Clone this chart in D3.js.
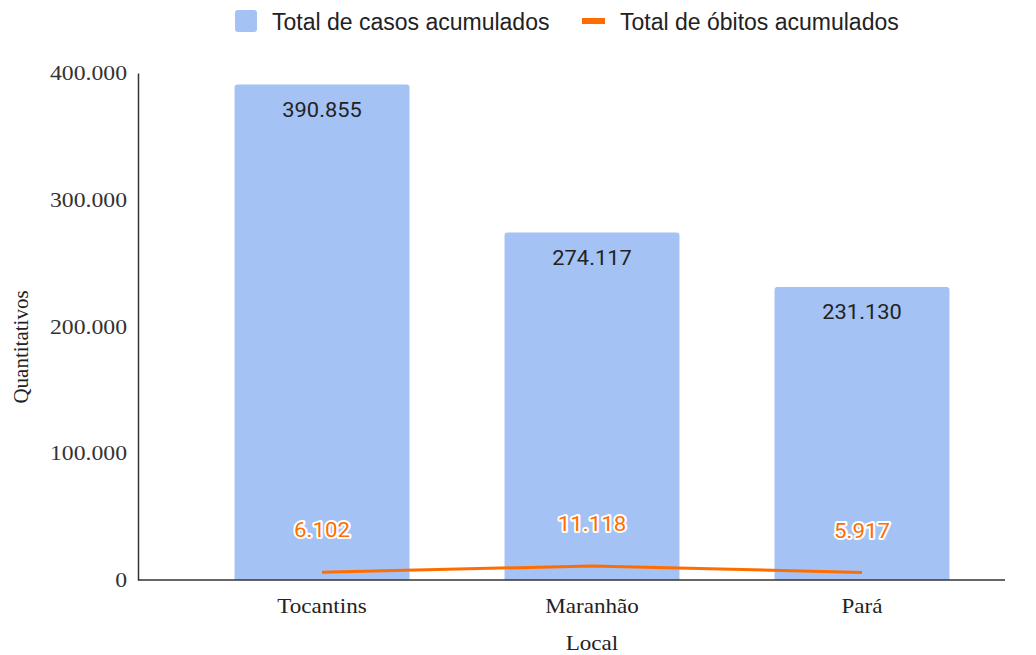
<!DOCTYPE html>
<html>
<head>
<meta charset="utf-8">
<script src="https://cdn.jsdelivr.net/npm/d3@7"></script>
<style>
  body { margin: 0; background: #fff; }
  svg text { font-family: Roboto, "Liberation Sans", Arial, sans-serif; }
  svg text.serif { font-family: "Liberation Serif", "Times New Roman", serif; }
  svg text.sans { font-family: "Liberation Sans", Arial, sans-serif; }
</style>
</head>
<body>
<svg id="chart" width="1036" height="655"></svg>
<script>
// chart data
const locais = ["Tocantins", "Maranhão", "Pará"];
const casos = [390855, 274117, 231130];
const obitos = [6102, 11118, 5917];
const yTicks = [0, 100000, 200000, 300000, 400000];

const fmt = v => d3.format(",")(v).replace(/,/g, ".");
// the source picture is a bit stretched sideways
const stretch = 1.1;

const svg = d3.select("#chart");

const x = d3.scaleBand()
    .domain(locais)
    .range([187, 997])
    .paddingInner(0.352)
    .paddingOuter(0.176);

const y = d3.scaleLinear()
    .domain([0, 400000])
    .range([580, 73]);

const cx = d => x(d) + x.bandwidth() / 2;

// bars (rounded top corners)
const r = 3;
svg.selectAll(".bar")
    .data(locais)
    .enter()
    .append("path")
    .attr("class", "bar")
    .attr("fill", "#a4c2f4")
    .attr("d", (d, i) => {
        const x0 = x(d), w = x.bandwidth(), y0 = y(casos[i]), yb = y(0);
        return `M${x0},${yb}V${y0 + r}Q${x0},${y0} ${x0 + r},${y0}H${x0 + w - r}Q${x0 + w},${y0} ${x0 + w},${y0 + r}V${yb}Z`;
    });

// bar value labels
svg.selectAll(".bar-label")
    .data(locais)
    .enter()
    .append("text")
    .attr("transform", (d, i) => `translate(${cx(d)},${y(casos[i]) + 32}) scale(1.04,1)`)
    .attr("text-anchor", "middle")
    .attr("font-size", 21)
    .attr("fill", "#222")
    .text((d, i) => fmt(casos[i]));

// axes
const yAxis = svg.append("g")
    .attr("transform", "translate(138,0)")
    .call(d3.axisLeft(y).tickValues(yTicks).tickSize(0).tickFormat(""));
yAxis.select(".domain").attr("stroke", "#333").attr("stroke-width", 1.5);

svg.selectAll(".y-label")
    .data(yTicks)
    .enter()
    .append("text")
    .attr("class", "serif")
    .attr("transform", d => `translate(127,${y(d) + 7}) scale(${stretch + 0.03},1)`)
    .attr("text-anchor", "end")
    .attr("font-size", 21)
    .attr("fill", "#333")
    .text(fmt);

svg.append("line")
    .attr("x1", 138).attr("x2", 1005)
    .attr("y1", y(0)).attr("y2", y(0))
    .attr("stroke", "#333").attr("stroke-width", 1.5);

svg.selectAll(".x-label")
    .data(locais)
    .enter()
    .append("text")
    .attr("class", "serif")
    .attr("transform", d => `translate(${cx(d)},613) scale(${stretch},1)`)
    .attr("text-anchor", "middle")
    .attr("font-size", 21)
    .attr("fill", "#222")
    .text(d => d);

// axis titles
svg.append("text")
    .attr("class", "serif")
    .attr("transform", `translate(592,650) scale(${stretch},1)`)
    .attr("text-anchor", "middle")
    .attr("font-size", 21)
    .attr("fill", "#222")
    .text("Local");

svg.append("text")
    .attr("class", "serif")
    .attr("transform", "translate(28,347) rotate(-90)")
    .attr("text-anchor", "middle")
    .attr("font-size", 21)
    .attr("fill", "#222")
    .text("Quantitativos");

// deaths line
const line = d3.line()
    .x((d, i) => cx(locais[i]))
    .y(d => y(d));

svg.append("path")
    .datum(obitos)
    .attr("fill", "none")
    .attr("stroke", "#ff6d01")
    .attr("stroke-width", 3)
    .attr("d", line);

svg.selectAll(".line-label")
    .data(obitos)
    .enter()
    .append("text")
    .attr("transform", (d, i) => `translate(${cx(locais[i])},${y(d) - 35}) scale(1.06,1)`)
    .attr("text-anchor", "middle")
    .attr("font-size", 21)
    .attr("fill", "#ff6d01")
    .attr("stroke", "#fff")
    .attr("stroke-width", 4)
    .attr("stroke-linejoin", "round")
    .attr("paint-order", "stroke")
    .text(d => fmt(d));

// legend
const legend = svg.append("g");
legend.append("rect")
    .attr("x", 235).attr("y", 10)
    .attr("width", 22).attr("height", 22)
    .attr("rx", 3)
    .attr("fill", "#a4c2f4");
legend.append("text")
    .attr("class", "sans")
    .attr("x", 272).attr("y", 30)
    .attr("font-size", 23)
    .attr("fill", "#222")
    .text("Total de casos acumulados");
legend.append("rect")
    .attr("x", 582).attr("y", 18)
    .attr("width", 23).attr("height", 6)
    .attr("fill", "#ff6d01");
legend.append("text")
    .attr("class", "sans")
    .attr("x", 620).attr("y", 30)
    .attr("font-size", 23)
    .attr("fill", "#222")
    .text("Total de óbitos acumulados");
</script>
</body>
</html>
